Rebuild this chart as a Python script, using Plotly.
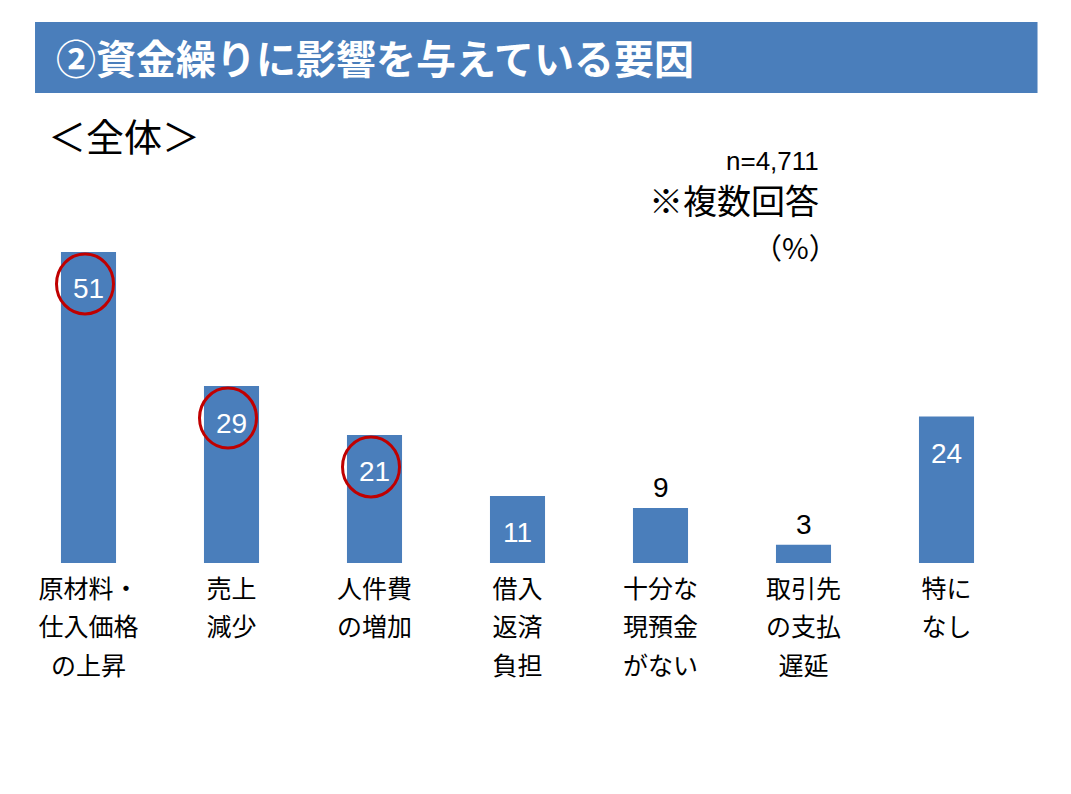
import plotly.graph_objects as go

# Data
category_lines = [
    ["原材料・", "仕入価格", "の上昇"],
    ["売上", "減少"],
    ["人件費", "の増加"],
    ["借入", "返済", "負担"],
    ["十分な", "現預金", "がない"],
    ["取引先", "の支払", "遅延"],
    ["特に", "なし"],
]
values = [51, 29, 21, 11, 9, 3, 24]
circled = [True, True, True, False, False, False, False]

title_text = "②資金繰りに影響を与えている要因"
subtitle_text = "＜全体＞"
n_text = "n=4,711"
multi_text = "※複数回答"
unit_text = "（%）"

BLUE = "#4A7EBB"
RED = "#C00000"
JP_FONT = "Noto Sans CJK JP"
NUM_FONT = "Liberation Sans, Arial, Noto Sans CJK JP"

# tick font is larger than the visible glyphs so the lines get the wider spacing
categories = ["<br>".join(f'<span style="font-size:25px">{s}</span>' for s in lines)
              for lines in category_lines]

fig = go.Figure()

fig.add_trace(go.Bar(
    x=categories, y=values,
    marker=dict(color=BLUE, line=dict(width=0)),
    width=0.385,
    hoverinfo="y",
))

# Value labels: inside near top for tall bars, above for short ones
for cat, val in zip(categories, values):
    if val >= 10:
        fig.add_annotation(x=cat, y=val, xref="x", yref="y", text=str(val),
                           showarrow=False, yanchor="middle", yshift=-37,
                           font=dict(family=NUM_FONT, size=28, color="white"))
    else:
        fig.add_annotation(x=cat, y=val, xref="x", yref="y", text=str(val),
                           showarrow=False, yanchor="bottom", yshift=3,
                           font=dict(family=NUM_FONT, size=28, color="black"))

# Red circles around the top three
for cat, val, flag in zip(categories, values, circled):
    if flag:
        fig.add_shape(type="circle", xref="x", yref="y",
                      xsizemode="pixel", ysizemode="pixel",
                      xanchor=cat, yanchor=val,
                      x0=-32, x1=25, y0=-62, y1=-2,
                      line=dict(color=RED, width=3))

# Title bar
fig.add_shape(type="rect", xref="paper", yref="paper",
              x0=0.018, x1=1.0195, y0=1.284, y1=1.478,
              fillcolor=BLUE, line=dict(width=0), layer="below")
fig.add_annotation(xref="paper", yref="paper", x=0.037, y=1.383,
                   xanchor="left", yanchor="middle", showarrow=False,
                   text="<b>" + title_text + "</b>",
                   font=dict(family=JP_FONT, size=40, color="white"))

fig.add_annotation(xref="paper", yref="paper", x=0.029, y=1.172,
                   xanchor="left", yanchor="middle", showarrow=False,
                   text=subtitle_text,
                   font=dict(family=JP_FONT, size=38, color="black"))

fig.add_annotation(xref="paper", yref="paper", x=0.803, y=1.098,
                   xanchor="right", yanchor="middle", showarrow=False,
                   text=n_text, font=dict(family=NUM_FONT, size=26, color="black"))
fig.add_annotation(xref="paper", yref="paper", x=0.803, y=0.992,
                   xanchor="right", yanchor="middle", showarrow=False,
                   text=multi_text, font=dict(family=JP_FONT, size=34, color="black"))
# full-width closing paren leaves blank space on its right, so anchor a bit further right
fig.add_annotation(xref="paper", yref="paper", x=0.822, y=0.866,
                   xanchor="right", yanchor="middle", showarrow=False,
                   text=unit_text, font=dict(family=JP_FONT, size=29, color="black"))

# page body has an 8px margin, so shift the plot area up/left by 8px
fig.update_layout(
    width=1071, height=794,
    margin=dict(l=9, r=61, t=189, b=239),
    paper_bgcolor="white", plot_bgcolor="white",
    showlegend=False,
    xaxis=dict(showgrid=False, zeroline=False, showline=False, ticks="",
               tickfont=dict(family=JP_FONT, size=29.6, color="black"),
               tickangle=0, ticklabelstandoff=4),
    yaxis=dict(visible=False, range=[0, 60], fixedrange=True),
)

fig.write_html("out.html")
